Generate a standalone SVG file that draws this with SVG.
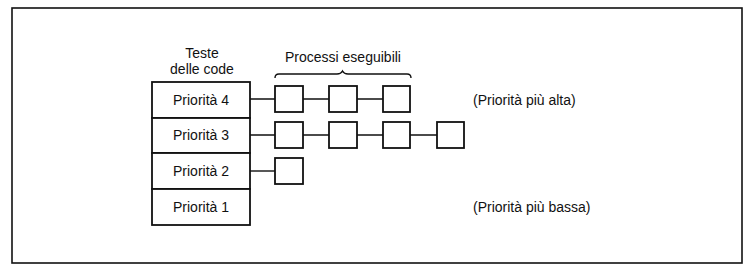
<svg xmlns="http://www.w3.org/2000/svg" width="755" height="274" viewBox="0 0 755 274">
  <style>
    .frame { fill: #fff; stroke: #111; stroke-width: 1.6; }
    .box { fill: #fff; stroke: #111; stroke-width: 1.8; }
    .link { fill: none; stroke: #111; stroke-width: 1.4; }
    .lbl { font-family: "Liberation Sans", Arial, sans-serif; font-size: 14px; fill: #111; }
    .mid { text-anchor: middle; }
  </style>
  <rect width="755" height="274" fill="#fff"/>
  <rect class="frame" x="12" y="8" width="730" height="255"/>

  <!-- titles -->
  <g id="title-heads">
    <text class="lbl mid" x="202" y="58">Teste</text>
    <text class="lbl mid" x="202" y="74">delle code</text>
  </g>
  <g id="title-processes">
    <text class="lbl mid" x="343" y="62">Processi eseguibili</text>
    <path class="link" d="M275,78 Q275,74 279,74 L337,74 Q341,74 342.5,71 Q344,74 348,74 L407,74 Q411,74 411,78"/>
  </g>

  <!-- queue heads -->
  <g id="prio4"><rect class="box" x="152" y="82" width="98" height="36"/><text class="lbl mid" x="201" y="105">Priorità 4</text></g>
  <g id="prio3"><rect class="box" x="152" y="118" width="98" height="35"/><text class="lbl mid" x="201" y="140">Priorità 3</text></g>
  <g id="prio2"><rect class="box" x="152" y="153" width="98" height="36"/><text class="lbl mid" x="201" y="176">Priorità 2</text></g>
  <g id="prio1"><rect class="box" x="152" y="189" width="98" height="36"/><text class="lbl mid" x="201" y="212">Priorità 1</text></g>

  <!-- connectors -->
  <g id="connectors">
    <path class="link" d="M250,99 H275 M303,99 H329 M357,99 H383"/>
    <path class="link" d="M250,135 H275 M303,135 H329 M357,135 H383 M410,135 H437"/>
    <path class="link" d="M250,171 H275"/>
  </g>

  <!-- processes -->
  <g id="p4a"><rect class="box" x="275" y="86" width="28" height="26"/></g>
  <g id="p4b"><rect class="box" x="329" y="86" width="28" height="26"/></g>
  <g id="p4c"><rect class="box" x="383" y="86" width="27" height="26"/></g>
  <g id="p3a"><rect class="box" x="275" y="122" width="28" height="26"/></g>
  <g id="p3b"><rect class="box" x="329" y="122" width="28" height="26"/></g>
  <g id="p3c"><rect class="box" x="383" y="122" width="27" height="26"/></g>
  <g id="p3d"><rect class="box" x="437" y="122" width="27" height="26"/></g>
  <g id="p2a"><rect class="box" x="275" y="158" width="28" height="26"/></g>

  <g id="note-high"><text class="lbl" x="473" y="105">(Priorità più alta)</text></g>
  <g id="note-low"><text class="lbl" x="473" y="212">(Priorità più bassa)</text></g>
</svg>
